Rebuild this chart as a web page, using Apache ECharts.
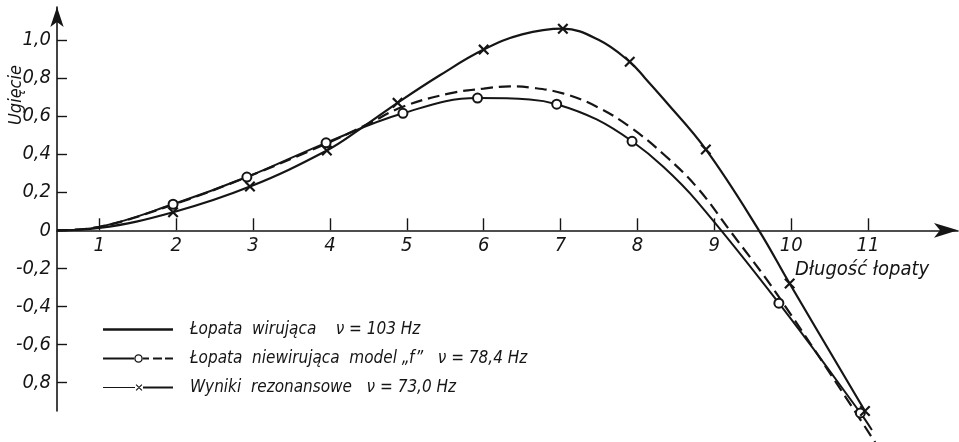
<!DOCTYPE html>
<html>
<head>
<meta charset="utf-8">
<script src="https://cdn.jsdelivr.net/npm/echarts@6/dist/echarts.min.js"></script>
<style>
  html, body { margin: 0; padding: 0; background: #fff; }
  #chart { width: 959px; height: 442px; }
</style>
</head>
<body>
<div id="chart"></div>
<script>
// blade length ticks and deflection ticks
const xTicks = [1, 2, 3, 4, 5, 6, 7, 8, 9, 10, 11];
const yTicks = [-0.8, -0.6, -0.4, -0.2, 0, 0.2, 0.4, 0.6, 0.8, 1.0];

// rotating blade, nu = 103 Hz (solid curve)
const rotatingCurve = [[0.45, 0], [1.0, 0.012], [1.96, 0.095], [2.96, 0.23], [3.96, 0.42], [4.4, 0.535],
  [4.88, 0.67], [5.43, 0.815], [6.0, 0.95], [6.5, 1.03], [7.03, 1.06], [7.5, 1.0], [7.9, 0.886],
  [8.1, 0.80], [8.34, 0.69], [8.89, 0.425], [9.58, 0.0], [9.98, -0.28], [10.96, -0.95]];

// non-rotating blade, model "f", nu = 78.4 Hz (circles)
const modelCurve = [[0.45, 0], [1.0, 0.018], [1.96, 0.137], [2.92, 0.28], [3.95, 0.46], [4.95, 0.615],
  [5.92, 0.695], [6.6, 0.688], [6.95, 0.663], [7.47, 0.583], [7.93, 0.468], [8.34, 0.333], [8.77, 0.155],
  [9.84, -0.383], [10.9, -0.96], [11.05, -1.05]];
const modelMarks = [2, 3, 4, 5, 6, 8, 10, 13, 14];

// dashed curve
const dashedCurve = [[0.45, 0], [1.0, 0.018], [1.96, 0.135], [2.92, 0.28], [3.95, 0.455], [4.5, 0.56],
  [4.95, 0.65], [5.56, 0.72], [6.0, 0.745], [6.34, 0.757], [6.6, 0.751], [7.03, 0.72], [7.47, 0.65],
  [7.9, 0.544], [8.34, 0.40], [8.77, 0.228], [9.2, 0.0], [9.84, -0.35], [11.1, -1.12]];

// resonance results, nu = 73.0 Hz (crosses)
const resonance = [[1.96, 0.095], [2.96, 0.23], [3.96, 0.42], [4.88, 0.67], [6.0, 0.95], [7.03, 1.06],
  [7.9, 0.886], [8.89, 0.425], [9.98, -0.28], [10.96, -0.95]];

const names = [
  'Łopata  wirująca    ν = 103 Hz',
  'Łopata  niewirująca  model „f”   ν = 78,4 Hz',
  'Wyniki  rezonansowe   ν = 73,0 Hz'
];

const FONT = '"Liberation Sans Narrow", "DejaVu Sans Condensed", sans-serif';
const INK = '#151515';
const CROSS = 'path://M0,1.4L1.4,0L10,8.6L8.6,10Z M8.6,0L10,1.4L1.4,10L0,8.6Z';

// legend keys drawn like the original: plain line, line-circle-dashes, line-cross-line
const KEY_SOLID = 'path://M0,4.8L70,4.8L70,7.2L0,7.2Z';
const KEY_CIRCLE = 'path://M0,5.1L31,5.1L31,6.9L0,6.9Z M39.8,6A4.3,4.3 0 1 0 31.2,6A4.3,4.3 0 1 0 39.8,6Z ' +
  'M38.4,6A2.9,2.9 0 1 1 32.6,6A2.9,2.9 0 1 1 38.4,6Z M40,5.1L46,5.1L46,6.9L40,6.9Z ' +
  'M50,5.1L59,5.1L59,6.9L50,6.9Z M62,5.1L70,5.1L70,6.9L62,6.9Z';
const KEY_CROSS = 'path://M0,5.4L32,5.4L32,6.6L0,6.6Z M32.7,3.5L33.5,2.7L39.3,8.5L38.5,9.3Z ' +
  'M38.5,2.7L39.3,3.5L33.5,9.3L32.7,8.5Z M40,4.9L70,4.9L70,7.1L40,7.1Z';

function fmtY(v) {
  if (Math.abs(v) < 1e-9) return '0';
  if (Math.abs(v + 0.8) < 1e-9) return '0,8';
  return v.toFixed(1).replace('.', ',');
}

const chart = echarts.init(document.getElementById('chart'));

const keyStyle = { color: INK, borderWidth: 0 };

chart.setOption({
  backgroundColor: '#fff',
  animation: false,
  grid: { left: 57, right: 1, top: 7, bottom: 31 },
  xAxis: {
    type: 'value', min: 0.45, max: 12.17,
    position: 'bottom', offset: -180.7,
    splitLine: { show: false },
    axisLine: { onZero: false, lineStyle: { color: INK, width: 1.6 }, symbol: ['none', 'arrow'], symbolSize: [11, 24] },
    axisTick: { inside: true, length: 12, customValues: xTicks, lineStyle: { color: INK, width: 1.4 } },
    axisLabel: { customValues: xTicks, margin: 5, color: INK, fontFamily: FONT, fontStyle: 'italic', fontSize: 20 }
  },
  yAxis: {
    type: 'value', min: -0.95, max: 1.174,
    splitLine: { show: false },
    axisLine: { lineStyle: { color: INK, width: 1.6 }, symbol: ['none', 'arrow'], symbolSize: [10, 20] },
    axisTick: { inside: true, length: 10, customValues: yTicks, lineStyle: { color: INK, width: 1.4 } },
    axisLabel: { customValues: yTicks, margin: 6, color: INK, fontFamily: FONT, fontStyle: 'italic', fontSize: 20, formatter: fmtY }
  },
  legend: {
    orient: 'vertical', left: 103, top: 321, padding: 0,
    itemWidth: 70, itemHeight: 12, itemGap: 12, symbolKeepAspect: true,
    textStyle: { color: INK, fontFamily: FONT, fontStyle: 'italic', fontSize: 17, lineHeight: 14, padding: [0, 0, 0, 12] },
    data: [
      { name: names[0], icon: KEY_SOLID, itemStyle: keyStyle },
      { name: names[1], icon: KEY_CIRCLE, itemStyle: keyStyle },
      { name: names[2], icon: KEY_CROSS, itemStyle: keyStyle }
    ]
  },
  graphic: [
    { type: 'text', x: 16, y: 95, rotation: Math.PI / 2,
      style: { text: 'Ugięcie', fill: INK, font: 'italic 18px ' + FONT, align: 'center', verticalAlign: 'middle' } },
    { type: 'text', x: 795, y: 270,
      style: { text: 'Długość łopaty', fill: INK, font: 'italic 20px ' + FONT, align: 'left', verticalAlign: 'middle' } }
  ],
  series: [
    {
      name: names[0], type: 'line', smooth: 0.4, symbol: 'none', clip: false, z: 3,
      lineStyle: { color: INK, width: 2.2 },
      itemStyle: { color: INK },
      data: rotatingCurve
    },
    {
      name: names[1], type: 'line', smooth: 0.4, symbol: 'emptyCircle', symbolSize: 9, clip: false, z: 4,
      showAllSymbol: true,
      lineStyle: { color: INK, width: 2 },
      itemStyle: { color: INK, borderWidth: 1.8 },
      data: modelCurve.map((p, i) => ({ value: p, symbol: modelMarks.includes(i) ? 'emptyCircle' : 'none' }))
    },
    {
      name: 'dashed', type: 'line', smooth: 0.4, symbol: 'none', clip: false, z: 2,
      lineStyle: { color: INK, width: 2.2, type: [12, 6] },
      data: dashedCurve
    },
    {
      name: names[2], type: 'line', symbol: CROSS, symbolSize: 11, clip: false, z: 5,
      lineStyle: { opacity: 0 },
      itemStyle: { color: INK },
      data: resonance
    }
  ]
});
</script>
</body>
</html>
